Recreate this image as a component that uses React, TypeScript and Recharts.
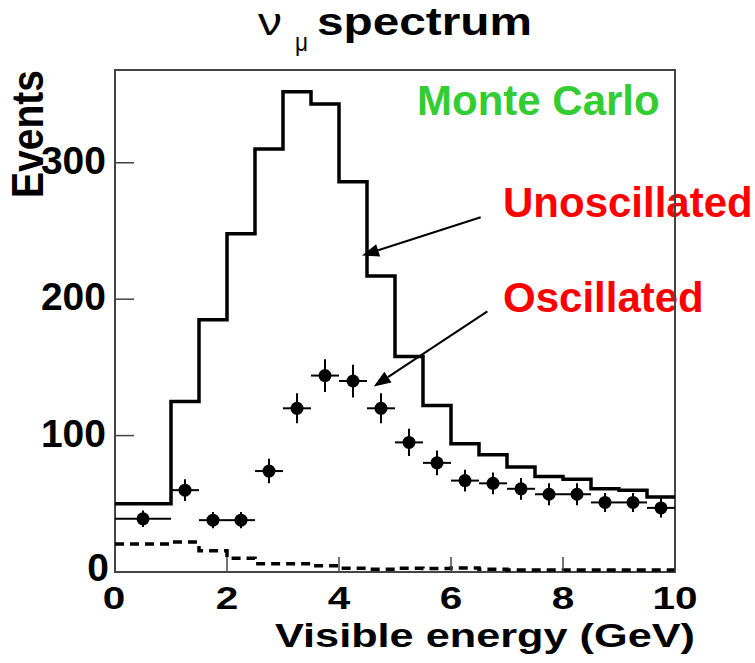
import React from "react";
import {
  ComposedChart,
  Line,
  Scatter,
  ErrorBar,
  XAxis,
  YAxis,
  ReferenceArea,
  ReferenceLine,
} from "recharts";

// histogram bins, 0.5 GeV wide (lower edges)
const binLow = [0, 0.5, 1, 1.5, 2, 2.5, 3, 3.5, 4, 4.5, 5, 5.5, 6, 6.5, 7, 7.5, 8, 8.5, 9, 9.5];
const unoscillated = [50, 50, 125, 185, 248, 310, 352, 343, 286, 217, 158, 122, 94, 86, 77, 70, 68, 61, 60, 55];
const background = [20.5, 20.5, 22, 15.5, 10, 6, 6, 4.5, 2.7, 2, 2.7, 2.5, 3, 2, 1.5, 1.5, 1.5, 1.5, 1.5, 1.5];

// oscillated MC points
const oscX = [0.5, 1.25, 1.75, 2.25, 2.75, 3.25, 3.75, 4.25, 4.75, 5.25, 5.75, 6.25, 6.75, 7.25, 7.75, 8.25, 8.75, 9.25, 9.75];
const oscY = [39, 60, 38, 38, 74, 120, 144, 140, 120, 95, 80, 67, 65, 61, 57, 57, 51, 51, 47];
const oscErrY = [6, 8, 6, 6, 9, 11, 12, 12, 11, 10, 9, 8, 8, 8, 8, 8, 7, 7, 7];
const oscErrX = [0.5, 0.25, 0.25, 0.25, 0.25, 0.25, 0.25, 0.25, 0.25, 0.25, 0.25, 0.25, 0.25, 0.25, 0.25, 0.25, 0.25, 0.25, 0.25];

const xTicks = [0, 2, 4, 6, 8, 10];
const yTicks = [0, 100, 200, 300];

const histData = [
  ...binLow.map((x, i) => ({ x, unosc: unoscillated[i], bkg: background[i] })),
  { x: 10, unosc: unoscillated[unoscillated.length - 1], bkg: background[background.length - 1] },
];
const oscData = oscX.map((x, i) => ({ x, y: oscY[i], ey: oscErrY[i], ex: oscErrX[i] }));

const FONT = "'Liberation Sans', Arial, sans-serif";
const FRAME = "#444";

const XTick = ({ x, y, payload }: any) => (
  <g>
    <line x1={x} x2={x} y1={y} y2={y - 15} stroke={FRAME} strokeWidth={1.5} />
    <text
      x={payload.value === 0 ? x - 1 : x}
      y={y + 37}
      textAnchor="middle"
      fontFamily={FONT}
      fontWeight="bold"
      fontSize={32}
      textLength={String(payload.value).length * 22.5}
      lengthAdjust="spacingAndGlyphs"
      fill="#000"
    >
      {payload.value}
    </text>
  </g>
);

const YTick = ({ x, y, payload }: any) => {
  const zero = payload.value === 0;
  return (
    <g>
      {!zero && <line x1={x} x2={x + 19} y1={y} y2={y} stroke={FRAME} strokeWidth={1.5} />}
      <text
        x={zero ? x - 6 : x - 9}
        y={zero ? y + 9 : y + 11}
        textAnchor="end"
        fontFamily={FONT}
        fontWeight="bold"
        fontSize={39}
        fill="#000"
      >
        {payload.value}
      </text>
    </g>
  );
};

const Arrow = (props: any) => {
  const { x1, y1, x2, y2 } = props;
  if (![x1, y1, x2, y2].every((v) => typeof v === "number")) return null;
  const a = Math.atan2(y2 - y1, x2 - x1);
  const len = 17;
  const hw = 6.5;
  const bx = x2 - len * Math.cos(a);
  const by = y2 - len * Math.sin(a);
  const px = -Math.sin(a) * hw;
  const py = Math.cos(a) * hw;
  return (
    <g>
      <line x1={x1} y1={y1} x2={bx} y2={by} stroke="#000" strokeWidth={2} />
      <polygon points={`${x2},${y2} ${bx + px},${by + py} ${bx - px},${by - py}`} fill="#000" />
    </g>
  );
};

const Dot = (p: any) => <circle cx={p.cx} cy={p.cy} r={6.5} fill="#000" />;

export default function App() {
  return (
    <div style={{ position: "absolute", left: 0, top: 0, width: 755, height: 663, background: "#fff" }}>
      <svg width={755} height={663} style={{ position: "absolute", left: 0, top: 0 }}>
        <text x={258} y={35} fontFamily={FONT} fontSize={38} textLength={24} lengthAdjust="spacingAndGlyphs">
          ν
        </text>
        <text x={295} y={51} fontFamily={FONT} fontSize={25} textLength={13} lengthAdjust="spacingAndGlyphs">
          μ
        </text>
        <text
          x={317}
          y={35}
          fontFamily={FONT}
          fontWeight="bold"
          fontSize={38}
          textLength={215}
          lengthAdjust="spacingAndGlyphs"
        >
          spectrum
        </text>
        <text
          x={43}
          y={134}
          transform="rotate(-90, 43, 134)"
          textAnchor="middle"
          fontFamily={FONT}
          fontWeight="bold"
          fontSize={44}
          textLength={128}
          lengthAdjust="spacingAndGlyphs"
        >
          Events
        </text>
        <text
          x={275}
          y={647}
          fontFamily={FONT}
          fontWeight="bold"
          fontSize={33}
          textLength={420}
          lengthAdjust="spacingAndGlyphs"
        >
          Visible energy (GeV)
        </text>
        <text x={417} y={115} fontFamily={FONT} fontWeight="bold" fontSize={42} fill="rgb(51,204,51)">
          Monte Carlo
        </text>
        <text x={503} y={217} fontFamily={FONT} fontWeight="bold" fontSize={42} fill="#ff0000">
          Unoscillated
        </text>
        <text x={503} y={312} fontFamily={FONT} fontWeight="bold" fontSize={42} fill="#ff0000">
          Oscillated
        </text>
      </svg>
      <div style={{ position: "absolute", left: 0, top: 0 }}>
        <ComposedChart width={755} height={663} margin={{ top: 70, right: 80, bottom: 0, left: 0 }}>
          <XAxis
            dataKey="x"
            type="number"
            domain={[0, 10]}
            ticks={xTicks}
            allowDataOverflow
            height={91}
            axisLine={false}
            tickLine={false}
            tickSize={0}
            tickMargin={0}
            tick={<XTick />}
            interval={0}
          />
          <YAxis
            type="number"
            domain={[0, 368]}
            ticks={yTicks}
            allowDataOverflow
            width={115}
            axisLine={false}
            tickLine={false}
            tickSize={0}
            tickMargin={0}
            tick={<YTick />}
            interval={0}
          />
          <ReferenceArea x1={0} x2={10} y1={0} y2={368} fill="none" stroke={FRAME} strokeWidth={2} ifOverflow="visible" />
          <Line
            data={histData}
            dataKey="bkg"
            type="stepAfter"
            stroke="#000"
            strokeWidth={3.5}
            strokeDasharray="9 6"
            dot={false}
            isAnimationActive={false}
          />
          <Line
            data={histData}
            dataKey="unosc"
            type="stepAfter"
            stroke="#000"
            strokeWidth={3.5}
            dot={false}
            isAnimationActive={false}
          />
          <Scatter data={oscData} dataKey="y" shape={<Dot />} isAnimationActive={false}>
            <ErrorBar dataKey="ey" direction="y" width={0} stroke="#000" strokeWidth={2} />
            <ErrorBar dataKey="ex" direction="x" width={0} stroke="#000" strokeWidth={2} />
          </Scatter>
          <ReferenceLine segment={[{ x: 6.53, y: 260 }, { x: 4.41, y: 232 }]} shape={<Arrow />} />
          <ReferenceLine segment={[{ x: 6.65, y: 191 }, { x: 4.62, y: 136 }]} shape={<Arrow />} />
        </ComposedChart>
      </div>
    </div>
  );
}
